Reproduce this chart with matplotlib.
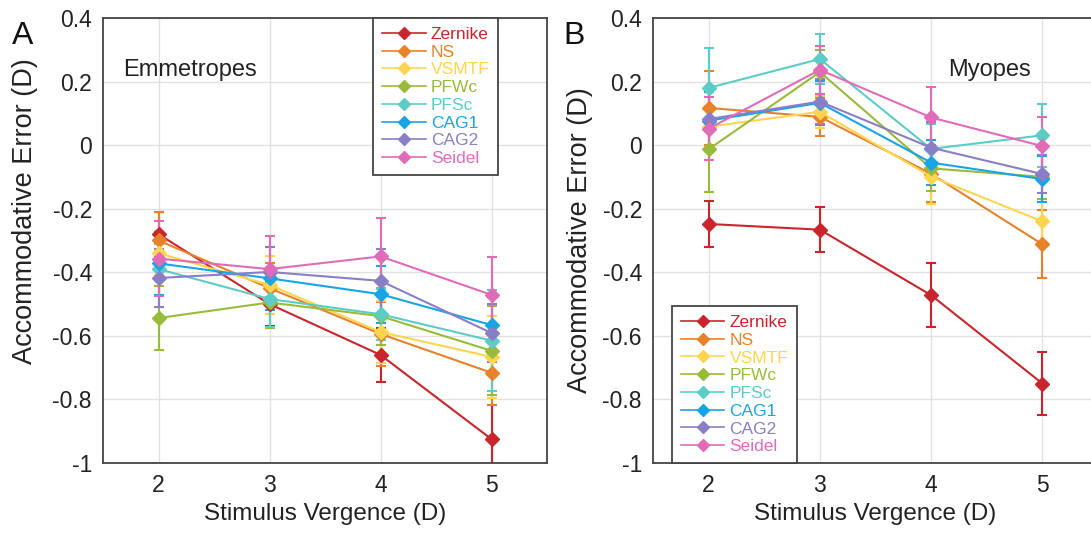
import matplotlib.pyplot as plt
import numpy as np

plt.rcParams['font.family'] = ['Liberation Sans', 'DejaVu Sans']

stimulus = [2, 3, 4, 5]
names = ['Zernike', 'NS', 'VSMTF', 'PFWc', 'PFSc', 'CAG1', 'CAG2', 'Seidel']
colors = ['#c9252c', '#e8822a', '#ffd54f', '#98bb3c', '#5ccdc6', '#18a5e6', '#8a7ec6', '#e06cb8']

# panel A: emmetropes
emm_mean = [
    [-0.28, -0.50, -0.66, -0.925],
    [-0.30, -0.45, -0.594, -0.716],
    [-0.34, -0.44, -0.588, -0.666],
    [-0.544, -0.495, -0.538, -0.647],
    [-0.39, -0.484, -0.532, -0.615],
    [-0.372, -0.419, -0.469, -0.566],
    [-0.418, -0.399, -0.427, -0.591],
    [-0.357, -0.39, -0.35, -0.471],
]
emm_err = [
    [0.07, 0.07, 0.084, 0.106],
    [0.09, 0.08, 0.10, 0.10],
    [0.07, 0.09, 0.097, 0.13],
    [0.10, 0.08, 0.09, 0.14],
    [0.08, 0.088, 0.08, 0.16],
    [0.10, 0.10, 0.09, 0.09],
    [0.09, 0.08, 0.10, 0.09],
    [0.117, 0.105, 0.12, 0.12],
]

# panel B: myopes
myo_mean = [
    [-0.248, -0.266, -0.472, -0.75],
    [0.117, 0.089, -0.09, -0.312],
    [0.058, 0.105, -0.099, -0.24],
    [-0.013, 0.23, -0.073, -0.10],
    [0.18, 0.271, -0.012, 0.031],
    [0.077, 0.133, -0.055, -0.107],
    [0.082, 0.137, -0.008, -0.091],
    [0.052, 0.237, 0.087, -0.003],
]
myo_err = [
    [0.073, 0.07, 0.10, 0.10],
    [0.115, 0.06, 0.09, 0.107],
    [0.064, 0.05, 0.085, 0.07],
    [0.133, 0.07, 0.07, 0.07],
    [0.125, 0.08, 0.08, 0.10],
    [0.09, 0.07, 0.07, 0.073],
    [0.09, 0.07, 0.08, 0.06],
    [0.10, 0.075, 0.095, 0.09],
]

yticks = [-1, -0.8, -0.6, -0.4, -0.2, 0, 0.2, 0.4]
ytick_labels = ['-1', '-0.8', '-0.6', '-0.4', '-0.2', '0', '0.2', '0.4']

fig = plt.figure(figsize=(10.91, 5.33), dpi=100)
axA = fig.add_axes([103/1091, 70/533, 444/1091, 445/533])
axB = fig.add_axes([653/1091, 70/533, 445/1091, 445/533])


def panel(ax, means, errs, title, tx, legend_kw):
    handles = []
    for name, c, m, e in zip(names, colors, means, errs):
        cont = ax.errorbar(stimulus, m, yerr=e, fmt='-D', color=c, mec=c, mfc=c,
                           ms=7, lw=1.5, elinewidth=1.5, capsize=3.5, capthick=1.5)
        handles.append(cont[0])
    ax.set_xlim(1.5, 5.5)
    ax.set_ylim(-1, 0.4)
    ax.set_xticks(stimulus)
    ax.set_yticks(yticks, labels=ytick_labels)
    ax.grid(True, color='#e2e2e2', lw=1)
    ax.set_axisbelow(True)
    ax.tick_params(length=0, labelsize=16.5, colors='#222222')
    ax.tick_params(axis='y', pad=8)
    ax.tick_params(axis='x', pad=8)
    for s in ax.spines.values():
        s.set_color('#444444')
        s.set_linewidth(1.3)
    ax.set_xlabel('Stimulus Vergence (D)', fontsize=17.5, color='#222222')
    ax.set_ylabel('Accommodative Error (D)', fontsize=19.5, color='#222222')
    ax.text(tx, 0.87, title, transform=ax.transAxes, fontsize=17, color='#222222')
    leg = ax.legend(handles, names, fontsize=12.5, labelspacing=0.15, handlelength=2.5,
                    handletextpad=0.3, borderpad=0.5, fancybox=False, framealpha=1,
                    edgecolor='#444444', borderaxespad=0, **legend_kw)
    leg.get_frame().set_linewidth(1.3)
    for t, c in zip(leg.get_texts(), colors):
        t.set_color(c)
    for h in leg.legend_handles:
        h.set_linewidth(1.2)
        h.set_markersize(6.5)
    return ax


panel(axA, emm_mean, emm_err, 'Emmetropes', 0.045,
      dict(loc='upper right', bbox_to_anchor=(0.89, 1.0)))
panel(axB, myo_mean, myo_err, 'Myopes', 0.663,
      dict(loc='lower left', bbox_to_anchor=(0.043, 0.0)))
axA.yaxis.set_label_coords(-0.146, 0.565)
axB.yaxis.set_label_coords(-0.135, 0.5)
axA.xaxis.set_label_coords(0.5, -0.09)
axB.xaxis.set_label_coords(0.5, -0.09)

fig.text(12/1091, 1 - 44/533, 'A', fontsize=23, color='#111111')
fig.text(563/1091, 1 - 44/533, 'B', fontsize=23, color='#111111')

fig.savefig('out.png', dpi=100)
